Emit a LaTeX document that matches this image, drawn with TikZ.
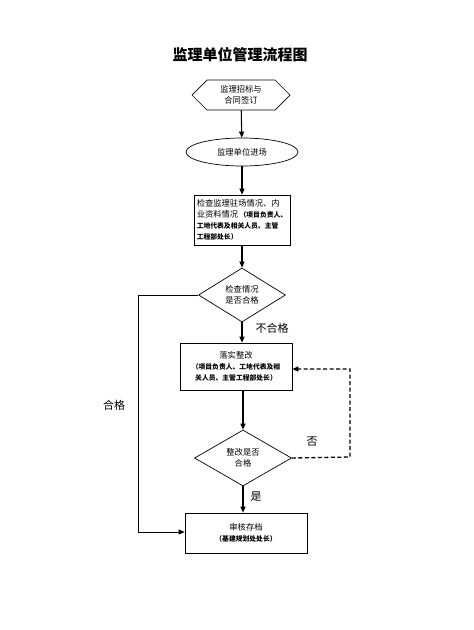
\documentclass[tikz,border=0pt]{standalone}
\usepackage{fontspec}
\setmainfont{Noto Sans CJK SC}
\XeTeXlinebreaklocale "zh"
\XeTeXlinebreakskip=0pt plus 1pt
\usetikzlibrary{shapes.geometric,shapes.symbols,arrows.meta}
\newcommand{\smallbold}{\fontsize{6.8}{10}\selectfont\bfseries}
\begin{document}
\begin{tikzpicture}[x=1pt,y=-1pt,
  every node/.style={inner sep=1pt,font=\fontsize{8.3}{11}\selectfont},
  line/.style={draw,line width=1.1pt,-{Triangle[length=6pt,width=5pt]}},
  thinline/.style={draw,line width=0.8pt,-{Triangle[length=6pt,width=5pt]}},
  dline/.style={draw,line width=1.3pt,dash pattern=on 4pt off 2.5pt,-{Triangle[length=6pt,width=5pt]}},
  hexbox/.style={draw,line width=0.7pt,signal,signal to=east and west,signal pointer angle=90,minimum width=98pt,minimum height=30pt,inner sep=0pt,align=center},
  ellbox/.style={draw,line width=0.7pt,ellipse,minimum width=112pt,minimum height=28pt,inner sep=0pt},
  procbox/.style={draw,line width=0.7pt,rectangle,inner sep=2pt},
  decbox/.style={draw,line width=0.7pt,diamond,inner sep=0pt,align=center},
  lbl/.style={font=\fontsize{11}{13}\selectfont}
]
\useasboundingbox (0,0) rectangle (474,630);
\node[font=\fontsize{15}{17}\selectfont\bfseries] (title) at (240,55) {监理单位管理流程图};
\node[hexbox] (start) at (241,95) {监理招标与\\合同签订};
\node[ellbox] (enter) at (242,152) {监理单位进场};
\node[procbox,minimum width=96pt,minimum height=50pt,align=left,inner sep=1.5pt] (check) at (242,220)
  {检查监理驻场情况、内\\业资料情况\,{\smallbold（项目负责人、}\\{\smallbold 工地代表及相关人员、主管}\\{\smallbold 工程部处长）}};
\node[decbox,minimum width=87pt,minimum height=54pt] (d1) at (242,295) {检查情况\\是否合格};
\node[procbox,minimum width=112pt,minimum height=47pt,align=center] (fix) at (236,366.5)
  {落实整改\\{\smallbold（项目负责人、工地代表及相}\\{\smallbold 关人员、主管工程部处长）}};
\node[decbox,minimum width=97pt,minimum height=56pt] (d2) at (243,458) {整改是否\\合格};
\node[procbox,minimum width=122pt,minimum height=40pt,align=center] (final) at (246,533)
  {审核存档\\{\smallbold（基建规划处处长）}};
\coordinate (lt) at (138,295);
\coordinate (lb) at (138,532);
\coordinate (rt) at (350,369);
\coordinate (rb) at (350,457);
\draw[line] (start) -- (enter);
\draw[line] (enter) -- (check);
\draw[line] (check) -- (d1);
\draw[line] (d1.south) -- (d1.south |- fix.north);
\draw[line] (fix.south -| d2.north) -- (d2.north);
\draw[line] (d2.south) -- (d2.south |- final.north);
\draw[thinline] (d1.west) -- (lt) -- (lb) -- (final.west |- lb);
\draw[dline] (d2.east) -- (rb) -- (rt) -- (fix.east |- rt);
\node[lbl] (l1) at (272,328) {不合格};
\node[lbl] (l2) at (312,442) {否};
\node[lbl] (l3) at (256,497) {是};
\node[lbl] (l4) at (114,405) {合格};
\end{tikzpicture}
\end{document}
